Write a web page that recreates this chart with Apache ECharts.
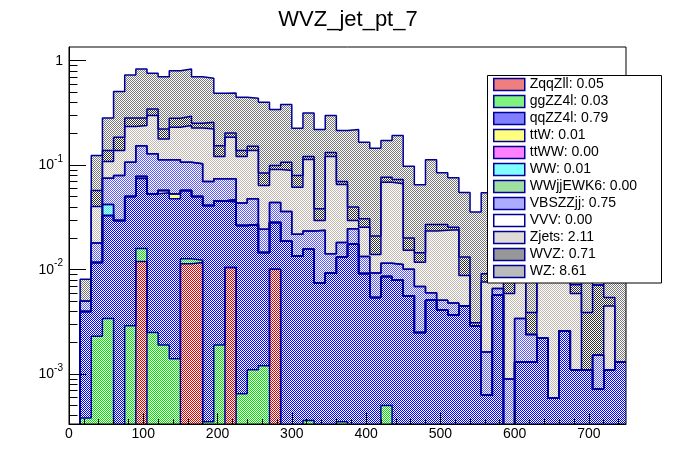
<!DOCTYPE html>
<html><head><meta charset="utf-8">
<script src="https://cdn.jsdelivr.net/npm/echarts@6/dist/echarts.min.js"></script>
<style>html,body{margin:0;padding:0;background:#fff}#c{width:696px;height:472px}</style>
</head><body><div id="c"></div>
<script>
// ---- data (bin width 15, 50 bins from 0 to 750) ----
const binEdges = [0,15,30,45,60,75,90,105,120,135,150,165,180,195,210,225,240,255,270,285,300,315,330,345,360,375,390,405,420,435,450,465,480,495,510,525,540,555,570,585,600,615,630,645,660,675,690,705,720,735,750];

const layerNames = ['ZqqZll','ggZZ4l','qqZZ4l','ttW','ttWW','WW','WWjjEWK6','VBSZZjj','VVV','Zjets','WVZ','WZ'];
const layerYields = ['0.05','0.03','0.79','0.01','0.00','0.01','0.00','0.75','0.00','2.11','0.71','8.61'];

const ZqqZll = [0,0,0,0,0,0,0.0120,0,0,0,
  0.0114,0.0117,0,0,0.0105,0,0,0,0.0101,0,
  0,0,0,0,0,0,0,0,0,0,
  0,0,0,0,0,0,0,0,0,0,
  0,0,0,0,0,0,0,0,0,0];
const ggZZ4l = [0,0.00038,0.0023,0.0034,0,0.0029,0.0039,0.0025,0.0019,0.0014,
  0.0013,0.0006,0.00035,0.0019,0,0.00065,0.0011,0.0012,0,0,
  0,0.00036,0,0,0.00035,0,0,0,0.0005,0,
  0,0,0,0,0,0,0,0,0,0,
  0,0,0,0,0,0,0,0,0,0];
const qqZZ4l = [0,0.0036,0.0094,0.0296,0.0296,0.0473,0.0587,0.0507,0.0525,0.0463,
  0.0446,0.0379,0.0408,0.0434,0.0338,0.0258,0.0260,0.0134,0.0182,0.0187,
  0.0135,0.0153,0.0075,0.0093,0.0129,0.0175,0.0092,0.0054,0.0081,0.0079,
  0.0056,0.0025,0.0051,0.0041,0.0037,0.0045,0.0029,0.00063,0.0057,0,
  0.0013,0.0013,0.0022,0.00059,0.0026,0.0011,0.0011,0.00072,0.0011,0.0013];
const ttW = [0,0,0,0,0,0,0.0033,0,0.0029,0.0055,
  0,0,0,0,0.0023,0,0,0,0,0,
  0,0,0,0,0,0,0,0,0,0,
  0,0,0,0,0,0,0,0,0,0,
  0,0,0,0,0,0,0,0,0,0];
const ttWW = [0,0,0,0,0,0,0,0,0,0, 0,0,0,0,0,0,0,0,0,0, 0,0,0,0,0,0,0,0,0,0, 0,0,0,0,0,0,0,0,0,0, 0,0,0,0,0,0,0,0,0,0];
const WW = [0,0,0,0.0091,0,0,0,0,0,0, 0,0,0,0,0,0,0,0,0,0, 0,0,0,0,0,0,0,0,0,0, 0,0,0,0,0,0,0,0,0,0, 0,0,0,0,0,0,0,0,0,0];
const WWjjEWK6 = [0,0,0,0,0,0,0,0,0,0, 0,0,0,0,0,0,0,0,0,0, 0,0,0,0,0,0,0,0,0,0, 0,0,0,0,0,0,0,0,0,0, 0,0,0,0,0,0,0,0,0,0];
const VBSZZjj = [0,0.0010,0.0063,0.0330,0.0501,0.0566,0.0751,0.0751,0.0551,0.0592,
  0.0495,0.0528,0.0286,0.0287,0.0274,0.0169,0.0206,0.0098,0.0157,0.0174,
  0.0083,0.0078,0.0163,0.0049,0.0049,0.0071,0.0042,0.0039,0.0029,0.0033,
  0.0045,0.0044,0.0009,0.0010,0.0011,0,0,0.0010,0.0009,0.0009,
  0.0021,0.0011,0,0,0,0,0,0.0008,0,0];
const VVV = [0,0,0,0,0,0,0,0,0,0, 0,0,0,0,0,0,0,0,0,0, 0,0,0,0,0,0,0,0,0,0, 0,0,0,0,0,0,0,0,0,0, 0,0,0,0,0,0,0,0,0,0];
const Zjets = [0,0,0.0223,0.0333,0.0583,0.1274,0.0863,0.1698,0.0661,0.1183,
  0.1325,0.1244,0.1526,0.0470,0.1112,0.0776,0.0903,0.0396,0.0469,0.0528,
  0.0398,0.0899,0.0058,0.1068,0.0473,0.0050,0.0120,0.0047,0.0572,0.0551,
  0.0052,0.0049,0.0174,0.0187,0.0193,0.0043,0,0.0060,0.0134,0.0050,
  0.0117,0,0.0120,0.0150,0.0120,0.0048,0,0,0.0034,0];
const WVZ = [0,0,0.0170,0.0296,0.0472,0.0490,0.0439,0.0471,0.0439,0.0505,
  0.0545,0.0246,0.0351,0.0320,0.0185,0.0170,0.0139,0.0200,0.0084,0.0179,
  0.0181,0.0077,0.0087,0.0111,0.0044,0.0101,0.0053,0.0070,0.0080,0.0067,
  0.0048,0.0027,0.0037,0.0032,0.0013,0.0044,0.0002,0.0015,0.0050,0.0060,
  0.0030,0.0015,0.0030,0.0030,0.0020,0.0013,0.0028,0.0056,0.0009,0];
const WZ = [0,0.0031,0.0664,0.1452,0.3206,0.4464,0.5494,0.4116,0.4811,0.5213,
  0.5388,0.4515,0.4206,0.3344,0.2874,0.3083,0.2847,0.3160,0.2409,0.2731,
  0.1460,0.1952,0.1809,0.1660,0.1446,0.1795,0.1352,0.1244,0.0952,0.1191,
  0.0777,0.0504,0.0853,0.0575,0.0503,0.0417,0.0325,0.0452,0.0200,0.0280,
  0.0120,0.0312,0.0098,0.0114,0.0054,0,0.0260,0,0.0146,0.0237];

const layerValues = [ZqqZll, ggZZ4l, qqZZ4l, ttW, ttWW, WW, WWjjEWK6, VBSZZjj, VVV, Zjets, WVZ, WZ];

// axis ticks
const xMajorTicks = [0,100,200,300,400,500,600,700];
const xMinorTicks = [20,40,60,80,120,140,160,180,220,240,260,280,320,340,360,380,420,440,460,480,520,540,560,580,620,640,660,680,720,740];
const yDecadeExponents = [-3,-2,-1,0];
const yMinorTickValues = [4e-4,5e-4,6e-4,7e-4,8e-4,9e-4,
  2e-3,3e-3,4e-3,5e-3,6e-3,7e-3,8e-3,9e-3,
  2e-2,3e-2,4e-2,5e-2,6e-2,7e-2,8e-2,9e-2,
  2e-1,3e-1,4e-1,5e-1,6e-1,7e-1,8e-1,9e-1];
const yMin = 3.333e-4, yMax = 1.352;

// ---- styles ----
const fillColors = ['#e00000','#00e600','#0000ff','#ffff00','#ff00ff','#00ffff','#40c040','#5a5aff',null,'#c0b8b0','#303030','#787878'];
const lineColor = '#000099';
function makeFill(color) {
  const c = document.createElement('canvas');
  c.width = 2; c.height = 2;
  const g = c.getContext('2d');
  g.fillStyle = '#ffffff'; g.fillRect(0, 0, 2, 2);
  if (color) {
    g.fillStyle = color;
    g.fillRect(0, 0, 1, 1);
    g.fillRect(1, 1, 1, 1);
  }
  return { image: c, repeat: 'repeat' };
}
const fills = fillColors.map(makeFill);
const legendNames = layerNames.map((n, i) => n + ': ' + layerYields[i]);

// cumulative stack (bottom = ZqqZll)
const cumulative = [];
layerValues.forEach((arr, i) => {
  cumulative.push(arr.map((v, k) => v + (i > 0 ? cumulative[i - 1][k] : 0)));
});
const FLOOR = -10;
function toLog(v) { return v > 0 ? Math.log10(v) : FLOOR; }

const series = [];
for (let i = layerValues.length - 1; i >= 0; i--) {
  const cum = cumulative[i];
  const pts = cum.map((v, k) => [binEdges[k], toLog(v)]);
  pts.push([binEdges[binEdges.length - 1], toLog(cum[cum.length - 1])]);
  series.push({
    name: legendNames[i],
    type: 'line',
    step: 'end',
    data: pts,
    symbol: 'none',
    silent: true,
    clip: true,
    xAxisIndex: 0, yAxisIndex: 0,
    itemStyle: { color: lineColor },
    lineStyle: { color: lineColor, width: 1.5 },
    areaStyle: { origin: 'start', color: fills[i], opacity: 1 }
  });
}

const chart = echarts.init(document.getElementById('c'));
const font = 'Liberation Sans, Arial, Helvetica, sans-serif';
chart.setOption({
  animation: false,
  backgroundColor: '#ffffff',
  textStyle: { fontFamily: font },
  title: {
    text: 'WVZ_jet_pt_7', left: 'center', top: 4,
    textStyle: { fontSize: 22, fontWeight: 'normal', color: '#000', fontFamily: font }
  },
  grid: { left: 69, right: 70, top: 47, bottom: 48, show: true, borderColor: '#000', borderWidth: 1, backgroundColor: 'transparent', z: 10 },
  xAxis: [{
    type: 'value', min: 0, max: 750, position: 'bottom', z: 10,
    axisLine: { show: true, onZero: false, lineStyle: { color: '#000', width: 1 } },
    axisTick: { show: true, inside: true, length: 11, customValues: xMajorTicks, lineStyle: { color: '#000' } },
    axisLabel: { show: true, customValues: xMajorTicks, fontSize: 14, color: '#000', margin: 3, fontFamily: font },
    splitLine: { show: false }
  }, {
    type: 'value', min: 0, max: 750, position: 'bottom', z: 10,
    axisLine: { show: false, onZero: false },
    axisTick: { show: true, inside: true, length: 5, customValues: xMinorTicks, lineStyle: { color: '#000' } },
    axisLabel: { show: false },
    splitLine: { show: false }
  }],
  yAxis: [{
    type: 'value', min: Math.log10(yMin), max: Math.log10(yMax), position: 'left', z: 10,
    axisLine: { show: true, onZero: false, lineStyle: { color: '#000', width: 1 } },
    axisTick: { show: true, inside: true, length: 17, customValues: yDecadeExponents, lineStyle: { color: '#000' } },
    axisLabel: {
      show: true, customValues: yDecadeExponents, margin: 6, color: '#000',
      formatter: function (v) {
        const e = Math.round(v);
        return e === 0 ? '{b|1}' : '{b|10}{s|' + e + '}';
      },
      rich: {
        b: { fontSize: 14, color: '#000', fontFamily: font },
        s: { fontSize: 10, color: '#000', fontFamily: font, padding: [0, 0, 12, 0] }
      }
    },
    splitLine: { show: false }
  }, {
    type: 'value', min: Math.log10(yMin), max: Math.log10(yMax), position: 'left', z: 10,
    axisLine: { show: false, onZero: false },
    axisTick: { show: true, inside: true, length: 8.5, customValues: yMinorTickValues.map(v => Math.log10(v)), lineStyle: { color: '#000' } },
    axisLabel: { show: false },
    splitLine: { show: false }
  }],
  graphic: [{
    type: 'rect', z: 20,
    shape: { x: 487.5, y: 75.5, width: 174, height: 207.5 },
    style: { fill: '#ffffff', stroke: '#000000', lineWidth: 1 }
  }],
  legend: {
    orient: 'vertical', left: 493, top: 76, padding: 0, itemGap: 0,
    itemWidth: 31, itemHeight: 12, icon: 'rect', selectedMode: false, z: 21,
    textStyle: { fontSize: 14, lineHeight: 17, color: '#000', fontFamily: font },
    data: legendNames.map((n, i) => ({
      name: n,
      icon: 'rect',
      itemStyle: { color: fills[i], borderColor: lineColor, borderWidth: 1.5 }
    }))
  },
  series: series
});
</script>
</body></html>
